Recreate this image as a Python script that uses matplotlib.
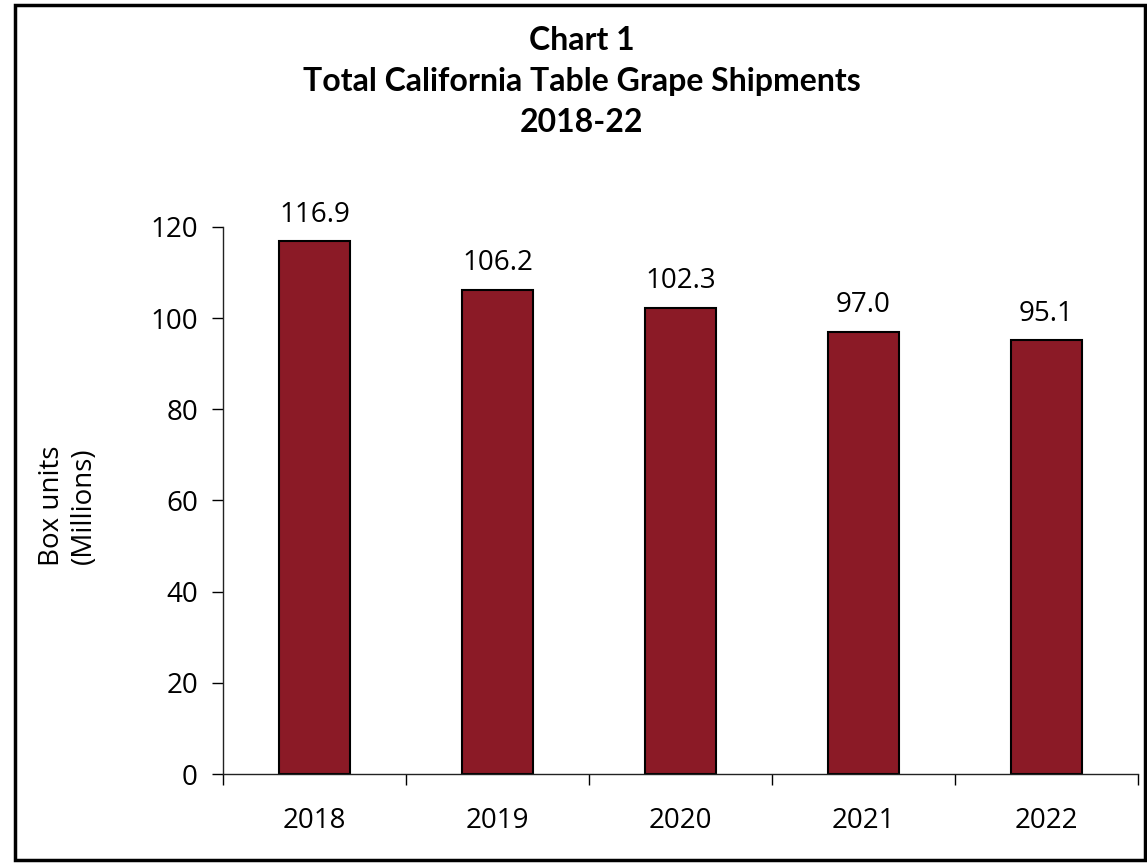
import numpy as np
import matplotlib.pyplot as plt
from matplotlib.patches import Rectangle

years = ["2018", "2019", "2020", "2021", "2022"]
shipments = [116.9, 106.2, 102.3, 97.0, 95.1]
title_lines = ["Chart 1", "Total California Table Grape Shipments", "2018-22"]
ylabel = "Box units\n(Millions)"

plt.rcParams['font.family'] = ['Open Sans', 'DejaVu Sans']

fig = plt.figure(figsize=(11.47, 8.65), dpi=100)
ax = fig.add_axes([0.1944, 0.1052, 0.7978, 0.6324])

x = np.arange(len(years))
bars = ax.bar(x, shipments, width=0.39, color="#8B1A26", edgecolor="black", linewidth=1.5)

for xi, v in zip(x, shipments):
    ax.annotate(f"{v:.1f}", (xi, v), xytext=(0, 9), textcoords="offset points",
                ha="center", va="bottom", fontsize=20)

ax.set_xlim(-0.5, len(years) - 0.5)
ax.set_ylim(0, 120)
ax.set_yticks(range(0, 121, 20))
ax.set_xticks(x)
ax.set_xticklabels(years)
ax.set_xticks(np.arange(-0.5, len(years), 1), minor=True)
ax.tick_params(axis="x", which="major", length=0, pad=24, labelsize=20)
ax.tick_params(axis="x", which="minor", length=8, width=1, direction="out")
ax.tick_params(axis="y", length=8, width=1, direction="out", pad=10, labelsize=20)

for s in ["top", "right"]:
    ax.spines[s].set_visible(False)
for s in ["left", "bottom"]:
    ax.spines[s].set_linewidth(1)
    ax.spines[s].set_color("#222222")

fig.text(0.059, 0.415, ylabel, rotation=90, ha="center", va="center", fontsize=20,
         multialignment="center")

for i, line in enumerate(title_lines):
    fig.text(0.507, 1 - (40 + 41 * i) / 865, line, ha="center", va="center",
             fontsize=23, fontweight="bold", family=["Lato", "DejaVu Sans"])

fig.patches.append(Rectangle((15 / 1147, 5 / 865), 1 - 17 / 1147, 1 - 10 / 865,
                             transform=fig.transFigure, fill=False,
                             edgecolor="black", linewidth=2.5))

fig.savefig("out.png", dpi=100)
